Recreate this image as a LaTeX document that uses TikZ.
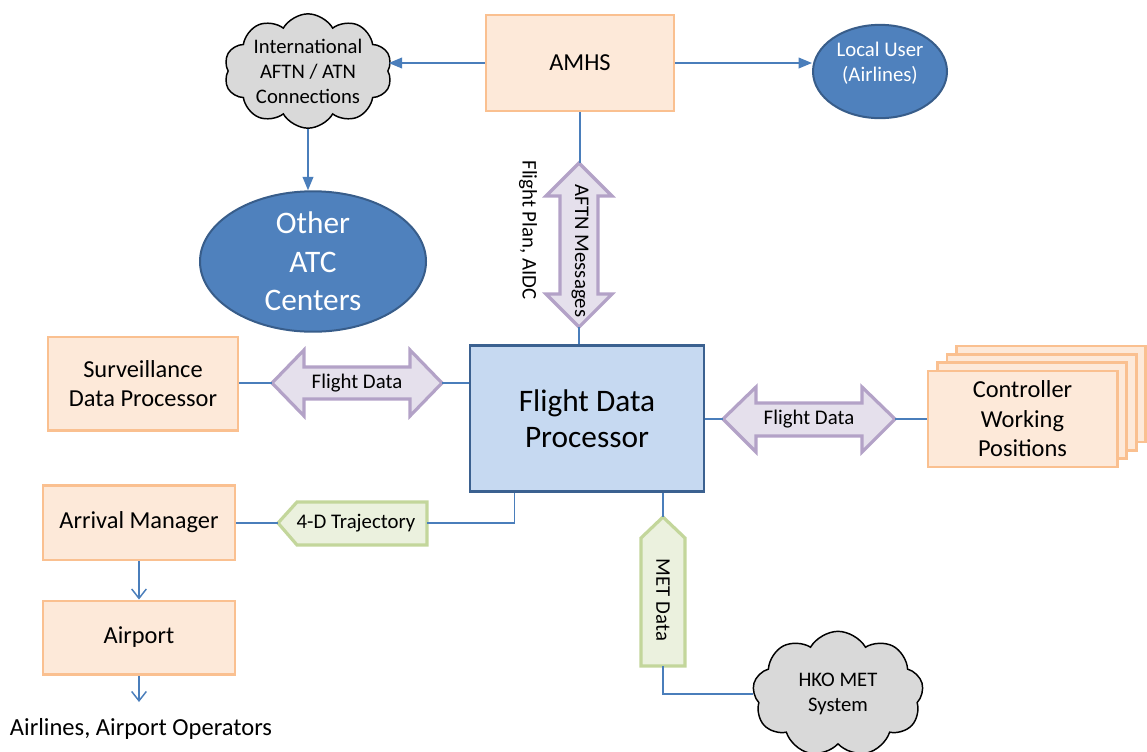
\documentclass[tikz,border=0pt]{standalone}
\usepackage{fontspec}
\setmainfont{Carlito}
\usepackage{xcolor}
\usetikzlibrary{arrows.meta, positioning, calc, shapes.geometric, shapes.symbols}

\definecolor{boxfill}{HTML}{FDE9D9}
\definecolor{boxline}{HTML}{FAC090}
\definecolor{fdpfill}{HTML}{C6D9F1}
\definecolor{fdpline}{HTML}{3B6190}
\definecolor{ovalfill}{HTML}{4F81BD}
\definecolor{ovalline}{HTML}{385D8A}
\definecolor{cloudfill}{HTML}{D9D9D9}
\definecolor{linkblue}{HTML}{4A7EBB}
\definecolor{msgfill}{HTML}{E5E0EC}
\definecolor{msgline}{HTML}{B3A2C7}
\definecolor{metfill}{HTML}{EBF1DE}
\definecolor{metline}{HTML}{C3D69B}

\tikzset{
  peachbox/.style={draw=boxline, fill=boxfill, line width=2pt, align=center,
    inner sep=0pt, font=\fontsize{18.3}{22.2}\selectfont},
  fdpbox/.style={draw=fdpline, fill=fdpfill, line width=2.2pt, align=center,
    inner sep=0pt, font=\fontsize{23.5}{27}\selectfont},
  oval/.style={ellipse, draw=ovalline, fill=ovalfill, line width=1.5pt,
    inner sep=0pt, align=center, text=white},
  cloudnode/.style={cloud, cloud puffs=10, cloud puff arc=120, cloud ignores aspect,
    draw=black, fill=cloudfill, line width=1.1pt, inner sep=0pt, align=center,
    font=\fontsize{15.5}{18.8}\selectfont},
  smalltext/.style={inner sep=0pt, align=center, font=\fontsize{15.6}{18.8}\selectfont},
  msgarrow/.style={draw=msgline, fill=msgfill, line width=2.4pt, line join=miter},
  metshape/.style={draw=metline, fill=metfill, line width=2.4pt, line join=miter},
  link/.style={draw=linkblue, line width=1.1pt},
  solidtip/.style={-{Triangle[length=10pt,width=8pt]}},
  opentip/.style={-{Straight Barb[length=7pt,width=11pt]}}
}

\begin{document}
\begin{tikzpicture}[x=0.75pt, y=-0.75pt]
  \useasboundingbox (0,0) rectangle (1147,751);

  % top row
  \node[peachbox, minimum width=141pt, minimum height=72pt] (amhs) at (580,63) {AMHS};
  \node[cloudnode, minimum width=126pt, minimum height=80pt] (intl) at (308,71)
    {International\\AFTN / ATN\\Connections};
  \node[oval, minimum width=100.5pt, minimum height=70pt] (lu) at (880,71.5) {};
  \node[smalltext, text=white] (lutext) at (880,63) {Local User\\(Airlines)};
  \node[oval, minimum width=169.5pt, minimum height=85pt,
    font=\fontsize{23.5}{29}\selectfont] (atc) at (313,261.5) {Other\\ATC\\Centers};

  \draw[link, solidtip] (amhs.west) -- (amhs.west -| intl.east);
  \draw[link, solidtip] (amhs.east) -- (amhs.east -| lu.west);
  \draw[link, solidtip] (intl.south) -- (intl.south |- atc.north);

  % AFTN messages
  \draw[msgarrow] (579,163) -- (612,196) -- (598,196) -- (598,294) -- (612,294)
    -- (579,327) -- (546,294) -- (560,294) -- (560,196) -- (546,196) -- cycle;
  \coordinate (aftnT) at (579,163);
  \coordinate (aftnB) at (579,327);
  \node[smalltext, rotate=-90] (aftn) at (580,251) {AFTN Messages};
  \node[smalltext, rotate=-90] (fplan) at (528,230) {Flight Plan, AIDC};

  % centre
  \node[fdpbox, minimum width=175.5pt, minimum height=110pt] (fdp) at (587,418.5)
    {Flight Data\\Processor};
  \draw[link] (amhs.south) -- (amhs.south |- aftnT);
  \draw[link] (aftnB) -- (aftnB |- fdp.north);

  % surveillance
  \node[peachbox, minimum width=142.5pt, minimum height=70pt] (sdp) at (143,383.5)
    {Surveillance\\Data Processor};
  \draw[msgarrow] (272,383) -- (304,350) -- (304,367) -- (410,367) -- (410,350)
    -- (442,383) -- (410,416) -- (410,399) -- (304,399) -- (304,416) -- cycle;
  \coordinate (fdlW) at (272,383);
  \coordinate (fdlE) at (442,383);
  \node[smalltext] (fdl) at (357,383) {Flight Data};
  \draw[link] (sdp.east |- fdlW) -- (fdlW);
  \draw[link] (fdlE) -- (fdlE -| fdp.west);

  % controller working positions
  \foreach \k in {3,2,1}
    \node[peachbox, minimum width=142pt, minimum height=72pt] (cwp\k)
      at (1022.5+9.5*\k, 419-8.3*\k) {};
  \node[peachbox, minimum width=142pt, minimum height=72pt] (cwp) at (1022.5,419)
    {Controller\\Working\\Positions};
  \draw[msgarrow] (723,419) -- (756,387) -- (756,403) -- (862,403) -- (862,387)
    -- (895,419) -- (862,452) -- (862,436) -- (756,436) -- (756,452) -- cycle;
  \coordinate (fdrW) at (723,419);
  \coordinate (fdrE) at (895,419);
  \node[smalltext] (fdr) at (809,419) {Flight Data};
  \draw[link] (fdp.east |- fdrW) -- (fdrW);
  \draw[link] (fdrE) -- (fdrE -| cwp.west);

  % arrival manager and airport
  \node[peachbox, minimum width=144pt, minimum height=56pt] (am) at (139,522.5)
    {Arrival Manager};
  \node[peachbox, minimum width=144pt, minimum height=55pt] (ap) at (139,637.5)
    {Airport};
  \node[inner sep=0pt, font=\fontsize{18.4}{22}\selectfont] (ops) at (141,729)
    {Airlines, Airport Operators};
  \coordinate (opsT) at (139,702);
  \draw[link, opentip] (am.south) -- (ap.north);
  \draw[link, opentip] (ap.south) -- (opsT);

  \draw[metshape] (278,523) -- (297,502) -- (427,502) -- (427,545) -- (297,545) -- cycle;
  \coordinate (trajW) at (278,523);
  \coordinate (trajE) at (427,523);
  \node[smalltext] (traj) at (356,523) {4-D Trajectory};
  \draw[link] (am.east |- trajW) -- (trajW);
  \draw[link] (trajE) -| ([xshift=34.5pt]fdp.south west);

  % MET data
  \draw[metshape] (663,517) -- (685,538) -- (685,666) -- (641,666) -- (641,538) -- cycle;
  \coordinate (metT) at (663,517);
  \coordinate (metB) at (663,666);
  \node[smalltext, rotate=-90] (met) at (663,600) {MET Data};
  \node[cloudnode, cloud puffs=9, minimum width=128pt, minimum height=94pt] (hko)
    at (838,694) {HKO MET\\System};
  \draw[link] (metT |- fdp.south) -- (metT);
  \draw[link] (metB) |- (hko.west);
\end{tikzpicture}
\end{document}
